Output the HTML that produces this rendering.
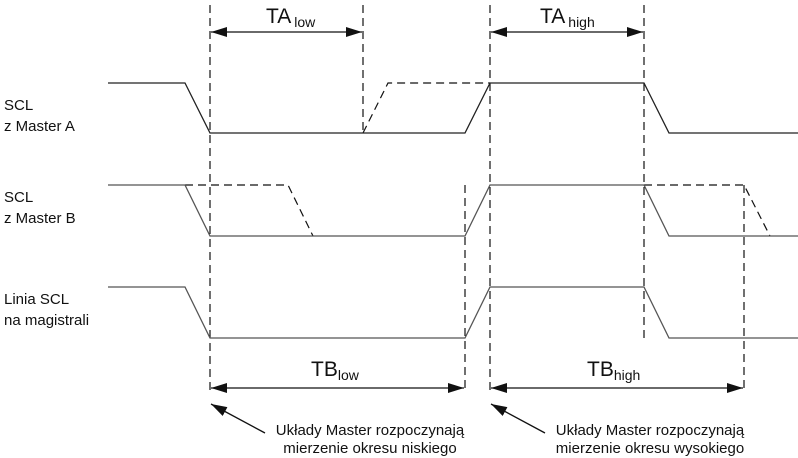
<!DOCTYPE html>
<html><head><style>body{margin:0;background:#fff}svg{display:block}</style></head><body>
<svg width="798" height="458" viewBox="0 0 798 458" xmlns="http://www.w3.org/2000/svg" font-family="Liberation Sans, sans-serif">
<defs>
<marker id="a" viewBox="0 0 16 10" refX="16" refY="5" markerWidth="16" markerHeight="10" markerUnits="userSpaceOnUse" orient="auto-start-reverse"><path d="M0,0L16,5L0,10z" fill="#111"/></marker>
</defs>
<g stroke="#111" stroke-width="1.2" stroke-dasharray="8,5" fill="none">
<line x1="210" y1="5" x2="210" y2="392"/>
<line x1="363" y1="5" x2="363" y2="133"/>
<line x1="490" y1="5" x2="490" y2="392"/>
<line x1="644" y1="5" x2="644" y2="338"/>
<line x1="465" y1="185" x2="465" y2="392"/>
<line x1="744" y1="185" x2="744" y2="392"/>
<polyline points="363,133 388,83 490,83"/>
<polyline points="185,185 288,185 313,236"/>
<polyline points="644,185 744,185 770,236"/>
</g>
<g stroke="#222" stroke-width="1.3" fill="none">
<polyline points="108,83 185,83 210,133 465,133 490,83 644,83 669,133 798,133"/>
</g>
<g stroke="#555" stroke-width="1.3" fill="none">
<polyline points="108,185 185,185 210,236 465,236 490,185 644,185 669,236 798,236"/>
<polyline points="108,287 185,287 210,338 465,338 490,287 644,287 669,338 798,338"/>
</g>
<g stroke="#111" stroke-width="1.3">
<line x1="211" y1="32" x2="362" y2="32" marker-start="url(#a)" marker-end="url(#a)"/>
<line x1="491" y1="32" x2="643" y2="32" marker-start="url(#a)" marker-end="url(#a)"/>
<line x1="211" y1="388" x2="464" y2="388" marker-start="url(#a)" marker-end="url(#a)"/>
<line x1="491" y1="388" x2="743" y2="388" marker-start="url(#a)" marker-end="url(#a)"/>
<line x1="265" y1="433" x2="211" y2="404" marker-end="url(#a)"/>
<line x1="545" y1="433" x2="491" y2="404" marker-end="url(#a)"/>
</g>
<g fill="#111" font-size="15">
<text x="4" y="110">SCL</text><text x="4" y="131">z Master A</text>
<text x="4" y="202">SCL</text><text x="4" y="223">z Master B</text>
<text x="4" y="304">Linia SCL</text><text x="4" y="325">na magistrali</text>
<text x="370" y="435" text-anchor="middle">Układy Master rozpoczynają</text>
<text x="370" y="453" text-anchor="middle">mierzenie okresu niskiego</text>
<text x="650" y="435" text-anchor="middle">Układy Master rozpoczynają</text>
<text x="650" y="453" text-anchor="middle">mierzenie okresu wysokiego</text>
</g>
<g fill="#111">
<text x="266" y="23" font-size="21">TA<tspan font-size="14" dx="3" dy="4">low</tspan></text>
<text x="540" y="23" font-size="21">TA<tspan font-size="14" dx="3" dy="4">high</tspan></text>
<text x="311" y="376" font-size="21">TB<tspan font-size="14" dy="4">low</tspan></text>
<text x="587" y="376" font-size="21">TB<tspan font-size="14" dy="4">high</tspan></text>
</g>
</svg>
</body></html>
